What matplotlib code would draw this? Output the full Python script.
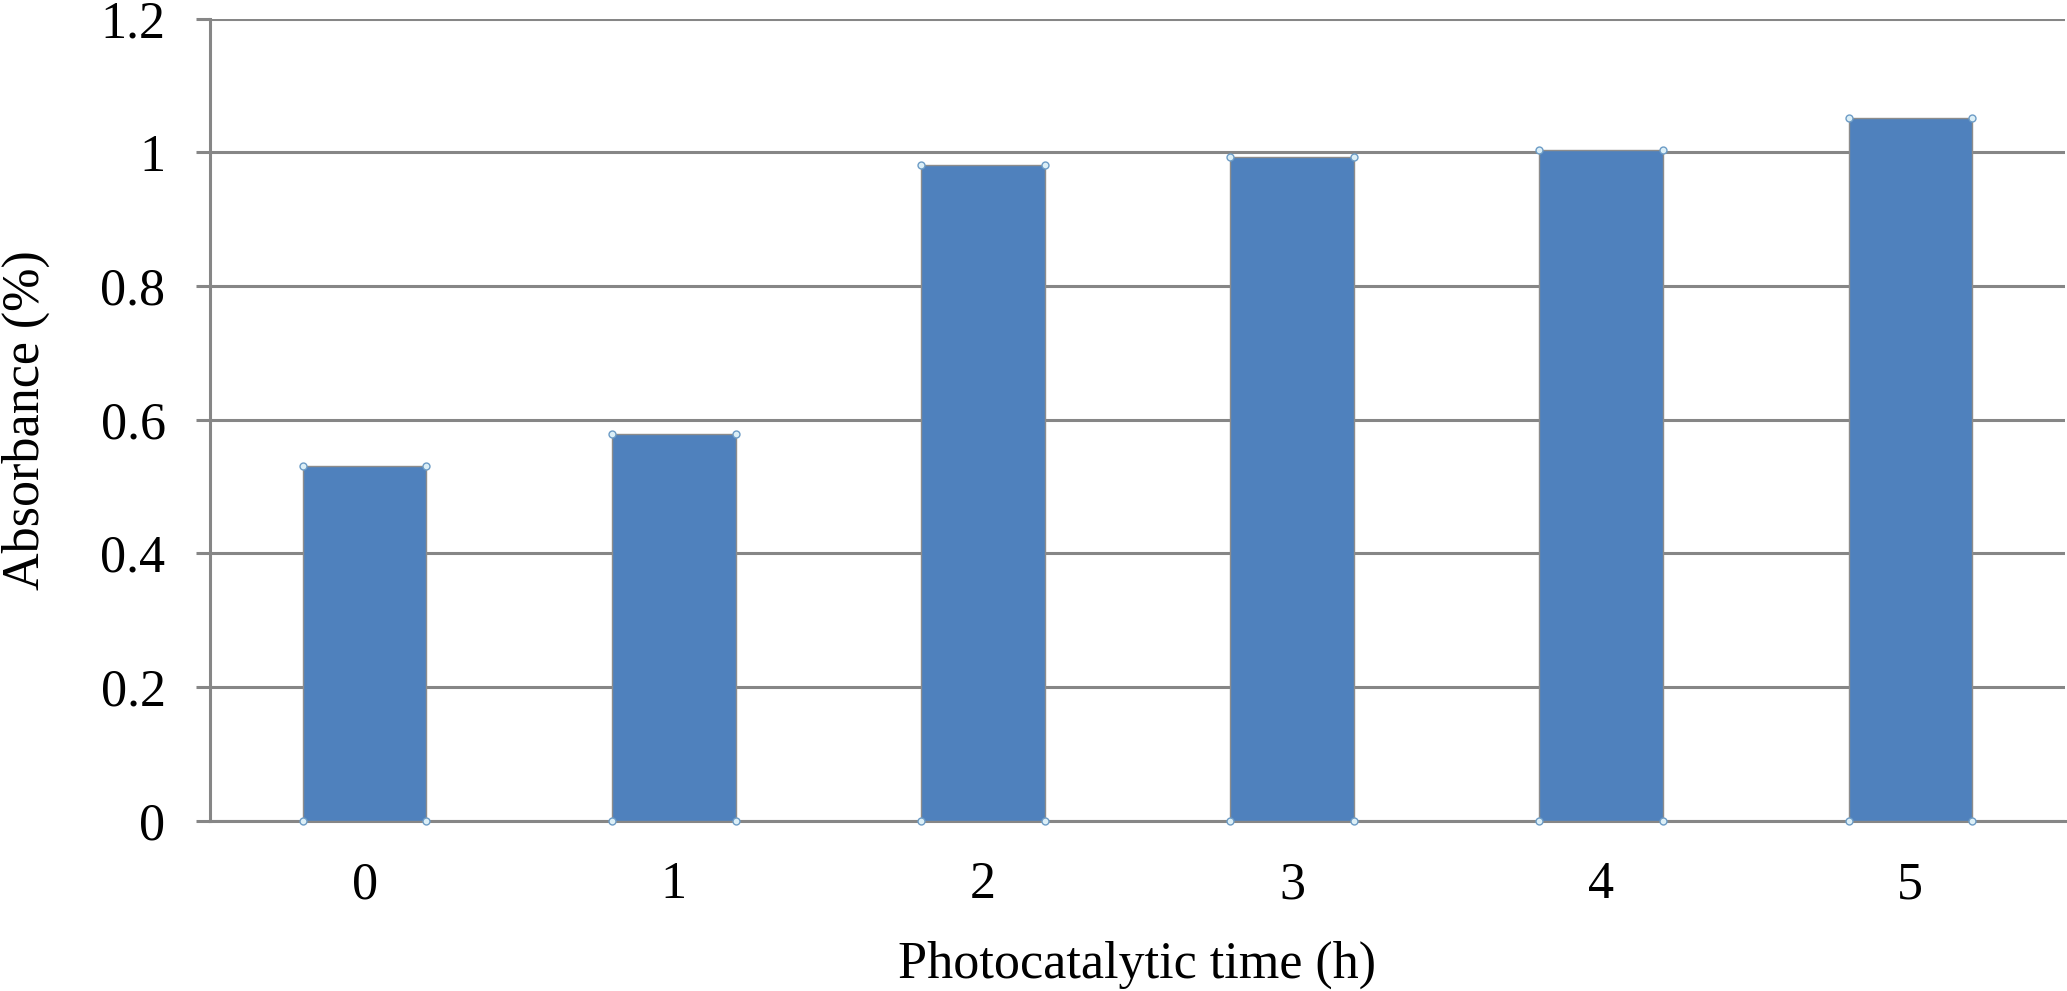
import numpy as np
import matplotlib
matplotlib.use("Agg")
import matplotlib.pyplot as plt

# data
hours = ["0", "1", "2", "3", "4", "5"]
absorbance = [0.531, 0.578, 0.981, 0.993, 1.004, 1.051]
y_ticks = [0, 0.2, 0.4, 0.6, 0.8, 1, 1.2]
y_tick_labels = ["0", "0.2", "0.4", "0.6", "0.8", "1", "1.2"]

plt.rcParams['font.family'] = ['Liberation Serif', 'DejaVu Serif']
grid_col = '#868686'

fig = plt.figure(figsize=(20.67, 9.91), dpi=100)
ax = fig.add_axes([0.1016, 0.1718, 0.8974, 0.8092])

x = np.arange(len(hours))
width = 0.4
ax.bar(x, absorbance, width=width, color='#4f81bd', edgecolor='#8c8c8c',
       linewidth=1.0, zorder=3)

# little selection handles on the bar corners
cx = np.concatenate([x - width / 2, x + width / 2, x - width / 2, x + width / 2])
cy = np.concatenate([absorbance, absorbance, np.zeros(len(x)), np.zeros(len(x))])
ax.plot(cx, cy, 'o', ms=5, mfc='#dceff7', mec='#6d9cc6', mew=1.0,
        linestyle='none', zorder=4, clip_on=False)

ax.set_xlim(-0.5, len(hours) - 0.5)
ax.set_ylim(0, 1.2)
ax.set_xticks(x)
ax.set_xticklabels(hours)
ax.set_yticks(y_ticks)
ax.set_yticklabels(y_tick_labels)

ax.yaxis.grid(True, color=grid_col, linewidth=2.2, zorder=1)
ax.set_axisbelow(True)
for s in ['top', 'right']:
    ax.spines[s].set_visible(False)
for s in ['left', 'bottom']:
    ax.spines[s].set_color(grid_col)
    ax.spines[s].set_linewidth(2.2)
    ax.spines[s].set_zorder(2)

ax.tick_params(axis='y', length=10, width=2.2, color=grid_col, pad=22, labelsize=37.5)
ax.tick_params(axis='x', length=0, pad=29, labelsize=37.5)

ax.set_xlabel('Photocatalytic time (h)', fontsize=37.5, labelpad=23)
ax.set_ylabel('Absorbance (%)', fontsize=37.5, labelpad=36)

fig.savefig('out.png', dpi=100)
